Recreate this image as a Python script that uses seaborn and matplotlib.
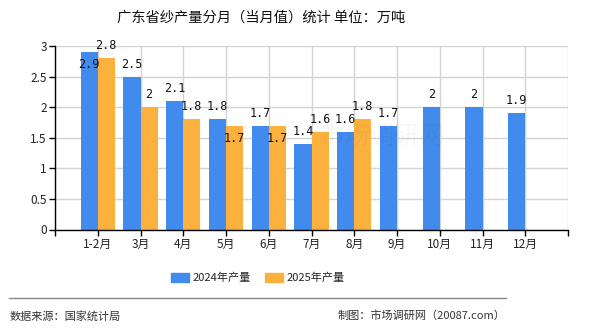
import matplotlib
matplotlib.use("Agg")
import matplotlib.pyplot as plt
import matplotlib.patches as mpatches
import numpy as np
import pandas as pd
import seaborn as sns

# Monthly yarn output in Guangdong (10k tonnes)
months = ["1-2月", "3月", "4月", "5月", "6月", "7月", "8月", "9月", "10月", "11月", "12月"]
output_2024 = [2.9, 2.5, 2.1, 1.8, 1.7, 1.4, 1.6, 1.7, 2.0, 2.0, 1.9]
output_2025 = [2.8, 2.0, 1.8, 1.7, 1.7, 1.6, 1.8, np.nan, np.nan, np.nan, np.nan]
series_names = ["2024年产量", "2025年产量"]
y_ticks = [0, 0.5, 1, 1.5, 2, 2.5, 3]
y_tick_labels = ["0", "0.5", "1", "1.5", "2", "2.5", "3"]

colors = ["#418BEE", "#FCB13F"]

sns.set_theme(style="white")
plt.rcParams["font.family"] = ["Noto Sans CJK SC", "DejaVu Sans"]

df = pd.DataFrame({
    "month": months * 2,
    "value": output_2024 + output_2025,
    "series": [series_names[0]] * len(months) + [series_names[1]] * len(months),
})

fig = plt.figure(figsize=(5.9, 3.3), dpi=100)
ax = fig.add_axes([55 / 590, 1 - 229.5 / 330, (568 - 55) / 590, (229.5 - 46) / 330])

sns.barplot(data=df, x="month", y="value", hue="series", order=months,
            hue_order=series_names, palette=colors, width=0.8, saturation=1,
            errorbar=None, legend=False, ax=ax, zorder=3,
            linewidth=0, edgecolor="none")

# axes, ticks, grid
ax.set_xlim(-1, len(months))
ax.set_ylim(0, 3)
ax.set_xticks(range(-1, len(months) + 1))
ax.set_xticklabels([""] + months + [""], fontsize=8.5, color="#222222")
ax.set_yticks(y_ticks)
ax.set_yticklabels(y_tick_labels, fontsize=8.5, color="#222222")
ax.set_xlabel("")
ax.set_ylabel("")
ax.grid(True, color="#D3D3D3", linewidth=1, zorder=0)
ax.set_axisbelow(True)
for side in ("top", "right"):
    ax.spines[side].set_visible(False)
for side in ("left", "bottom"):
    ax.spines[side].set_color("black")
    ax.spines[side].set_linewidth(1)
    ax.spines[side].set_zorder(4)
ax.tick_params(axis="both", which="major", length=4, width=1, color="black",
               bottom=True, left=True, pad=2)

# value labels; a few sit inside their bar to avoid collisions
inside = {(0, 0), (1, 3), (1, 4)}
for s_idx, (container, values) in enumerate(zip(ax.containers, [output_2024, output_2025])):
    for m_idx, (patch, val) in enumerate(zip(container.patches, values)):
        if np.isnan(val):
            continue
        cx = patch.get_x() + patch.get_width() / 2
        dy = -9 if (s_idx, m_idx) in inside else 9
        ax.annotate(f"{val:g}", xy=(cx, val), xytext=(0, dy), textcoords="offset points",
                    ha="center", va="center", fontsize=8.5, color="#111111",
                    family="DejaVu Sans Mono", zorder=5)

# faint watermark
fig.text(382 / 590, 1 - 138 / 330, "市场调研网", fontsize=18,
         color="#000000", alpha=0.03, ha="center", va="center", zorder=6)

# title
fig.text(261 / 590, 1 - 18 / 330, "广东省纱产量分月（当月值）统计 单位：万吨",
         ha="center", va="center", fontsize=10.3, color="#111111")

# legend
handles = [mpatches.Patch(color=c, label=n) for c, n in zip(colors, series_names)]
fig.legend(handles=handles, loc="center", bbox_to_anchor=(258 / 590, 1 - 278 / 330),
           ncol=2, frameon=False, fontsize=8, handlelength=1.6, handleheight=0.8,
           handletextpad=0.35, columnspacing=1.3)

# footer
fig.add_artist(plt.Line2D([9 / 590, 506 / 590], [1 - 298 / 330, 1 - 298 / 330],
                          color="#888888", linewidth=1))
fig.text(10 / 590, 1 - 316 / 330, "数据来源：国家统计局", ha="left", va="center",
         fontsize=8, color="#333333")
fig.text(505 / 590, 1 - 316 / 330, "制图：市场调研网（20087.com）", ha="right", va="center",
         fontsize=8, color="#333333")

fig.savefig("out.png", dpi=100)
